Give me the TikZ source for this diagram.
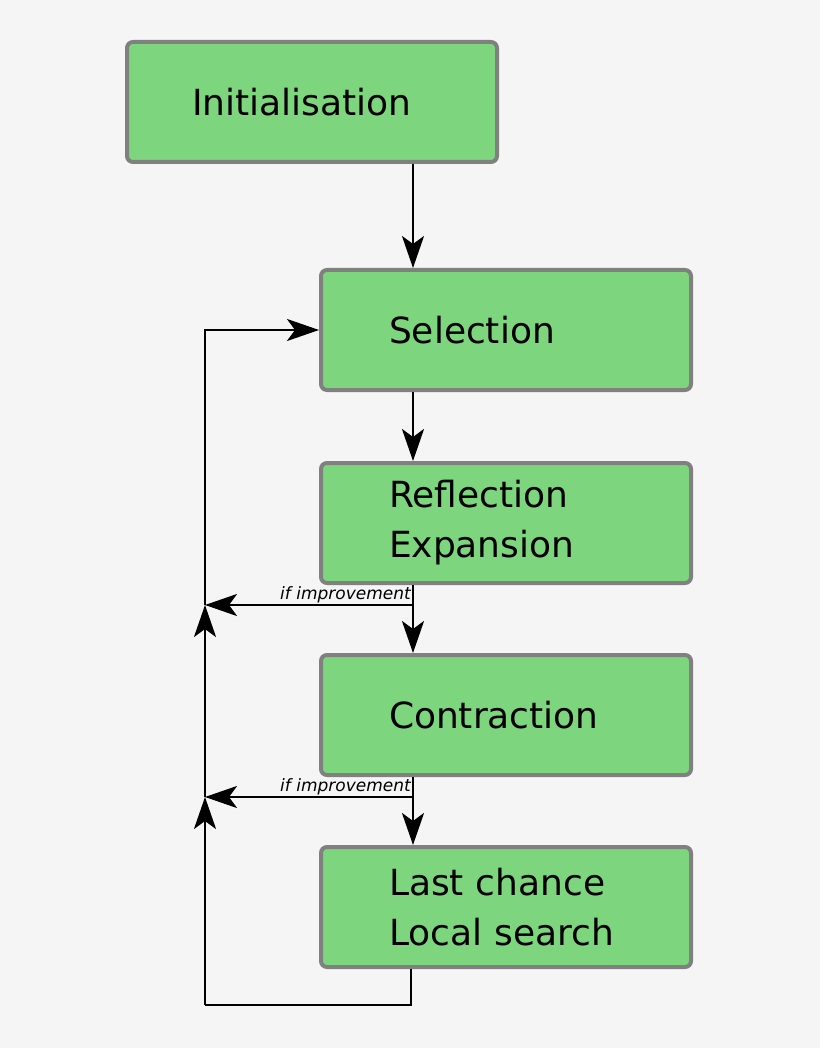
\documentclass[tikz,border=0pt]{standalone}
\usepackage{fontspec}
\setmainfont{DejaVu Sans}
\usetikzlibrary{arrows.meta}
\definecolor{boxgreen}{HTML}{7DD67D}
\definecolor{boxgray}{HTML}{808080}
\definecolor{bggray}{HTML}{F5F5F5}
\begin{document}
\begin{tikzpicture}[x=1pt, y=-1pt,
  stage/.style={draw=boxgray, line width=4pt, fill=boxgreen, rounded corners=6pt,
    minimum width=370pt, minimum height=120pt, text width=300pt, align=left,
    font=\fontsize{36}{50}\selectfont, inner sep=0pt},
  flow/.style={line width=2.5pt, -{Stealth[length=32pt, width=22pt, inset=8pt]}},
  cond/.style={font=\itshape\fontsize{17}{17}\selectfont, inner sep=1pt, anchor=south east}]
%background
  \fill[bggray] (0,0) rectangle (820,1048);
  \useasboundingbox (0,0) rectangle (820,1048);

%stages
  \node[stage, text width=240pt] (init) at (312,102) {Initialisation};
  \node[stage] (sel) at (506,330) {\hspace*{33pt}Selection};
  \node[stage] (refl) at (506,523) {\hspace*{33pt}Reflection\\\hspace*{33pt}Expansion};
  \node[stage] (contr) at (506,715) {\hspace*{33pt}Contraction};
  \node[stage] (last) at (506,907) {\hspace*{33pt}Last chance\\\hspace*{33pt}Local search};

%junctions
  \coordinate (b1) at (413,605);
  \coordinate (j1) at (205,605);
  \coordinate (b2) at (413,797);
  \coordinate (j2) at (205,797);
  \coordinate (c1) at (411,1005);
  \coordinate (c2) at (205,1005);
  \coordinate (c3) at (205,330);

%connectors
  \draw[flow] (init.south -| b1) -- (sel.north -| b1);
  \draw[flow] (sel.south -| b1) -- (refl.north -| b1);
  \draw[flow] (refl.south -| b1) -- (contr.north -| b1);
  \draw[flow] (contr.south -| b2) -- (last.north -| b2);
  \draw[flow] (b1) -- node[cond, at start] {if improvement} (j1);
  \draw[flow] (b2) -- node[cond, at start] {if improvement} (j2);
  \draw[line width=2.5pt] (last.south -| c1) -- (c1) -- (c2);
  \draw[flow] (c2) -- (j2);
  \draw[flow] (j2) -- (j1);
  \draw[flow] (j1) -- (c3) -- (sel.west);
\end{tikzpicture}
\end{document}
